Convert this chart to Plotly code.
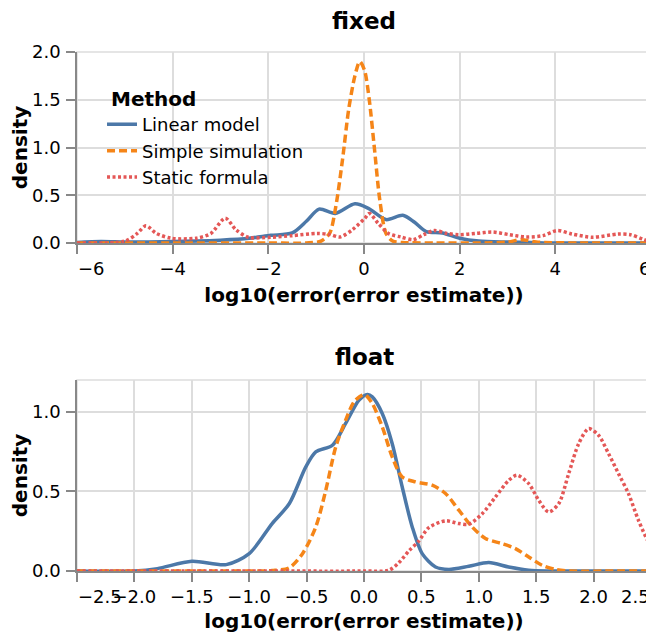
import plotly.graph_objects as go

# ---------------- data ----------------
methods = ["Linear model", "Simple simulation", "Static formula"]
panels = ["fixed", "float"]

# fixed panel
fixed_linear_x = [-6, -5.5, -5, -4.5, -4, -3.5, -3, -2.4, -1.95, -1.5, -1.2, -0.94, -0.6, -0.19, 0.1,
                  0.46, 0.81, 1.05, 1.3, 1.64, 2.0, 2.4, 3.0, 3.5, 4.0, 5.0, 6.0]
fixed_linear_y = [0.005, 0.015, 0.01, 0.01, 0.015, 0.02, 0.03, 0.05, 0.08, 0.105, 0.23, 0.355, 0.31, 0.41, 0.36,
                  0.245, 0.29, 0.22, 0.12, 0.105, 0.05, 0.02, 0.01, 0.005, 0.0, 0.0, 0.0]

fixed_sim_x = [-6, -4, -2, -1.2, -0.9, -0.72, -0.59, -0.45, -0.32, -0.19, -0.09, 0.01, 0.11, 0.22, 0.33,
               0.46, 0.6, 0.8, 1.5, 2.5, 3.0, 3.3, 3.6, 4.5, 6]
fixed_sim_y = [0.0, 0.0, 0.0, 0.0, 0.02, 0.10, 0.38, 0.87, 1.40, 1.75, 1.90, 1.81, 1.50, 0.98, 0.45,
               0.10, 0.02, 0.005, 0.0, 0.0, 0.01, 0.035, 0.01, 0.0, 0.0]

fixed_static_x = [-6.0, -5.0, -4.74, -4.56, -4.34, -4.03, -3.51, -3.2, -2.9, -2.68, -2.42, -1.94, -1.5, -0.98,
                  -0.72, -0.5, -0.24, 0.02, 0.11, 0.29, 0.51, 0.77, 1.03, 1.25, 1.47, 1.73, 1.99, 2.34,
                  2.69, 3.04, 3.39, 3.74, 4.04, 4.35, 4.78, 5.31, 5.57, 5.83, 6.0]
fixed_static_y = [0.0, 0.02, 0.10, 0.18, 0.10, 0.05, 0.05, 0.10, 0.26, 0.14, 0.06, 0.06, 0.077, 0.10,
                  0.09, 0.063, 0.14, 0.26, 0.31, 0.21, 0.10, 0.063, 0.035, 0.087, 0.13, 0.10, 0.087, 0.10,
                  0.115, 0.087, 0.063, 0.077, 0.13, 0.094, 0.06, 0.094, 0.087, 0.04, 0.01]

# float panel
float_linear_x = [-2.5, -2.0, -1.8, -1.5, -1.2, -1.0, -0.8, -0.65, -0.507, -0.42, -0.275, -0.16, -0.043, 0.03,
                  0.072, 0.159, 0.246, 0.333, 0.42, 0.507, 0.623, 0.739, 0.913, 1.087, 1.26, 1.435, 1.6, 2.0, 2.5]
float_linear_y = [0.0, 0.0, 0.015, 0.061, 0.04, 0.109, 0.298, 0.424, 0.654, 0.748, 0.79, 0.927, 1.074, 1.109,
                  1.094, 0.99, 0.80, 0.528, 0.277, 0.109, 0.025, 0.01, 0.03, 0.053, 0.025, 0.005, 0.0, 0.0, 0.0]

float_sim_x = [-2.5, -1.5, -0.9, -0.8, -0.652, -0.536, -0.42, -0.333, -0.246, -0.16, -0.087, -0.014, 0.014,
               0.072, 0.159, 0.246, 0.333, 0.449, 0.594, 0.71, 0.826, 0.942, 1.058, 1.203, 1.319, 1.435,
               1.551, 1.667, 1.8, 2.2, 2.5]
float_sim_y = [0.0, 0.0, 0.0, 0.003, 0.02, 0.109, 0.277, 0.507, 0.78, 0.948, 1.063, 1.105, 1.105,
               1.053, 0.906, 0.717, 0.591, 0.56, 0.539, 0.487, 0.382, 0.277, 0.204, 0.172, 0.141, 0.088,
               0.036, 0.01, 0.0, 0.0, 0.0]

float_static_x = [-2.5, -1.0, 0.0, 0.217, 0.304, 0.391, 0.478, 0.565, 0.71, 0.826, 0.913, 1.03, 1.145, 1.26,
                  1.333, 1.435, 1.522, 1.609, 1.696, 1.783, 1.87, 1.957, 2.043, 2.13, 2.217, 2.304, 2.391,
                  2.478, 2.5]
float_static_y = [0.0, 0.0, 0.0, 0.005, 0.053, 0.126, 0.189, 0.273, 0.315, 0.298, 0.294, 0.36, 0.465, 0.569,
                  0.602, 0.549, 0.444, 0.371, 0.423, 0.612, 0.80, 0.895, 0.853, 0.738, 0.612, 0.486, 0.318,
                  0.182, 0.165]

# axes
fixed_xticks = [-6, -4, -2, 0, 2, 4, 6]
fixed_xlabels = ["\u22126", "\u22124", "\u22122", "0", "2", "4", "6"]
fixed_yticks = [0.0, 0.5, 1.0, 1.5, 2.0]
fixed_ylabels = ["0.0", "0.5", "1.0", "1.5", "2.0"]
float_xticks = [-2.5, -2.0, -1.5, -1.0, -0.5, 0.0, 0.5, 1.0, 1.5, 2.0, 2.5]
float_xlabels = ["\u22122.5", "\u22122.0", "\u22121.5", "\u22121.0", "\u22120.5", "0.0", "0.5", "1.0", "1.5",
                 "2.0", "2.5"]
float_yticks = [0.0, 0.5, 1.0]
float_ylabels = ["0.0", "0.5", "1.0"]

x_title = "log10(error(error estimate))"
y_title = "density"
legend_title = "Method"

# ---------------- styling ----------------
FONT = "DejaVu Sans"
colors = {"Linear model": "#4c78a8", "Simple simulation": "#f58518", "Static formula": "#e45756"}
dashes = {"Linear model": "solid", "Simple simulation": "8px,4px", "Static formula": "3px,2.5px"}
LW = 3.5
NB = "\u00a0"


def inner_labels(labels):
    # the end labels are drawn flush with the axis ends (see annotations below)
    out = list(labels)
    out[0] = ""
    out[-1] = ""
    return out


series = {
    "fixed": {
        "Linear model": (fixed_linear_x, fixed_linear_y),
        "Simple simulation": (fixed_sim_x, fixed_sim_y),
        "Static formula": (fixed_static_x, fixed_static_y),
    },
    "float": {
        "Linear model": (float_linear_x, float_linear_y),
        "Simple simulation": (float_sim_x, float_sim_y),
        "Static formula": (float_static_x, float_static_y),
    },
}

fig = go.Figure()
for pi, panel in enumerate(panels):
    for m in methods:
        xs, ys = series[panel][m]
        fig.add_trace(go.Scatter(
            x=xs, y=ys, mode="lines", name=m,
            line=dict(color=colors[m], width=LW, dash=dashes[m], shape="spline", smoothing=0.8),
            xaxis="x" if pi == 0 else "x2", yaxis="y" if pi == 0 else "y2",
            showlegend=(pi == 0), hoverinfo="skip",
        ))

tickfont = dict(family=FONT, size=18, color="#000")
titlefont = dict(family=FONT, size=20, color="#000", weight="bold")

common_x = dict(showgrid=True, gridcolor="#dddddd", gridwidth=1.5, zeroline=False,
                showline=True, linecolor="#888888", linewidth=1.5,
                ticks="outside", ticklen=9, tickwidth=1.5, tickcolor="#888888",
                tickfont=tickfont, tickangle=0, ticklabeloverflow="allow", automargin=False,
                title=dict(text=x_title, font=titlefont, standoff=10))
common_y = dict(showgrid=True, gridcolor="#dddddd", gridwidth=1.5, zeroline=False,
                showline=True, linecolor="#888888", linewidth=1.5,
                ticks="outside", ticklen=9, tickwidth=1.5, tickcolor="#888888",
                tickfont=tickfont, ticklabelstandoff=2, automargin=False,
                title=dict(text=y_title, font=titlefont, standoff=10))

# page body adds an 8px offset, so the figure is 8px smaller on each side
fig.update_layout(
    width=646, height=625,
    margin=dict(l=69, r=3, t=44, b=62, autoexpand=False),
    paper_bgcolor="white", plot_bgcolor="white",
    font=dict(family=FONT, color="#000"),
    xaxis=dict(common_x, domain=[0, 1], anchor="y", range=[-6, 6],
               tickmode="array", tickvals=fixed_xticks, ticktext=inner_labels(fixed_xlabels)),
    yaxis=dict(common_y, domain=[0.632, 1], anchor="x", range=[0, 2.0],
               tickmode="array", tickvals=fixed_yticks, ticktext=fixed_ylabels),
    xaxis2=dict(common_x, domain=[0, 1], anchor="y2", range=[-2.5, 2.5],
                tickmode="array", tickvals=float_xticks, ticktext=inner_labels(float_xlabels)),
    yaxis2=dict(common_y, domain=[0, 0.368], anchor="x2", range=[0, 1.2],
                tickmode="array", tickvals=float_yticks, ticktext=float_ylabels),
    legend=dict(
        title=dict(text=NB + legend_title, font=dict(family=FONT, size=20, color="#000", weight="bold")),
        font=dict(family=FONT, size=18, color="#000"),
        x=0.0436, xanchor="left", y=0.946, yanchor="top", tracegroupgap=0,
        bgcolor="rgba(0,0,0,0)", borderwidth=0,
    ),
    showlegend=True,
)

# flush end tick labels (first left-aligned, last right-aligned to the axis ends)
for xref, yref, ticks, labels in (("x", "y", fixed_xticks, fixed_xlabels),
                                  ("x2", "y2", float_xticks, float_xlabels)):
    for val, lab, anchor in ((ticks[0], labels[0], "left"), (ticks[-1], labels[-1], "right")):
        fig.add_annotation(text=lab, xref=xref, yref=yref, x=val, y=0,
                           xanchor=anchor, yanchor="middle", yshift=-26, xshift=0,
                           showarrow=False, borderpad=0, font=tickfont)

# view borders (light grey frame)
for xr, yr in (("x domain", "y domain"), ("x2 domain", "y2 domain")):
    fig.add_shape(type="rect", xref=xr, yref=yr, x0=0, x1=1, y0=0, y1=1,
                  line=dict(color="#dddddd", width=1.5), fillcolor="rgba(0,0,0,0)", layer="below")

# panel titles
for text, yy in (("fixed", 1.06), ("float", 0.412)):
    fig.add_annotation(text=text, xref="paper", yref="paper", x=0.5, y=yy,
                       xanchor="center", yanchor="middle", showarrow=False,
                       font=dict(family=FONT, size=23, color="#000", weight="bold"))

fig.write_html("out.html")
